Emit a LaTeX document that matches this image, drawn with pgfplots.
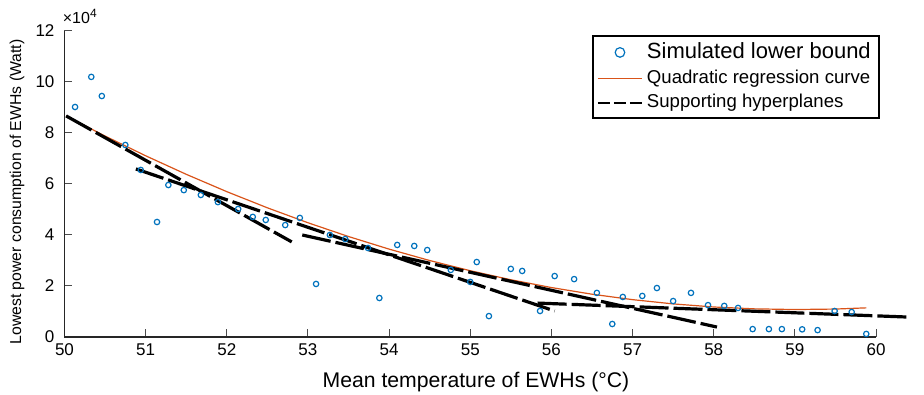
\documentclass[border=0pt]{standalone}
\usepackage{pgfplots}
\usepackage{pgfplotstable}
\pgfplotsset{compat=1.18}
\usepackage{fontspec}
\setmainfont{Liberation Sans}
\definecolor{mblue}{HTML}{0072BD}
\definecolor{morange}{HTML}{D95319}

\pgfplotsset{
  ptlegend/.style={legend image code/.code={\path[mblue, line width=1.1pt, mark size=2.4pt] plot[mark=o] coordinates {(11pt,0pt)};}},
  orlegend/.style={legend image code/.code={\draw[morange, line width=0.6pt] (0pt,0pt) -- (22pt,0pt);}},
  hplegend/.style={legend image code/.code={\draw[black, line width=1pt, dash pattern=on 6pt off 2pt] (0pt,0pt) -- (22pt,0pt);}},
  hyper/.style={black, line width=1.6pt, no marks, dash pattern=on 14.5pt off 2.5pt},
}

\pgfplotstableread{
x y
50.13 9.02
50.33 10.20
50.46 9.45
50.75 7.53
50.94 6.55
51.14 4.51
51.28 5.96
51.47 5.76
51.68 5.57
51.89 5.29
52.14 5.02
52.32 4.71
52.48 4.59
52.72 4.39
52.90 4.67
53.10 2.08
53.27 4.00
53.46 3.84
53.74 3.49
53.88 1.53
54.10 3.61
54.31 3.57
54.47 3.41
54.76 2.63
55.00 2.16
55.08 2.94
55.23 0.82
55.50 2.67
55.64 2.59
55.86 1.02
56.04 2.39
56.28 2.27
56.56 1.73
56.75 0.51
56.88 1.57
57.12 1.61
57.30 1.92
57.50 1.41
57.72 1.73
57.93 1.25
58.13 1.22
58.30 1.14
58.48 0.31
58.68 0.31
58.84 0.31
59.09 0.30
59.28 0.27
59.49 1.02
59.70 0.98
59.88 0.12
}\pointsdata

\pgfplotstableread{
x y
50.02 8.670
50.5 7.880
51.0 7.107
51.5 6.380
52.0 5.700
52.5 5.066
53.0 4.480
53.5 3.940
54.0 3.446
54.5 2.999
55.0 2.599
55.5 2.245
56.0 1.939
56.5 1.678
57.0 1.465
57.5 1.298
58.0 1.177
58.5 1.104
59.0 1.077
59.5 1.096
59.88 1.143
}\curvedata

\begin{document}
\begin{tikzpicture}
\begin{axis}[
  name=ax,
  scale only axis, width=405.75pt, height=153pt,
  xmin=50, xmax=60, ymin=0, ymax=12,
  xtick={50,51,...,60}, ytick={0,2,...,12},
  axis x line*=bottom, axis y line*=left,
  axis line style={line width=0.8pt, color=black!85},
  tick align=inside, major tick length=4pt,
  tick style={line width=0.5pt, color=black!70},
  clip=false,
  ticklabel style={font=\fontsize{8.5}{10}\selectfont},
  /pgf/number format/assume math mode=true,
  yticklabel style={xshift=-1.5pt},
  xlabel={Mean temperature of EWHs (°C)},
  ylabel={Lowest power consumption of EWHs (Watt)},
  xlabel style={font=\fontsize{10.6}{12}\selectfont, at={(axis description cs:0.507,0)}, anchor=center, yshift=-22.5pt},
  ylabel style={font=\fontsize{7.9}{9}\selectfont, at={(axis description cs:-0.0585,0.474)}, anchor=center},
  legend cell align=left,
  legend style={at={(axis description cs:0.650,0.987)}, anchor=north west,
    draw=black, line width=1pt, inner xsep=2pt, inner ysep=1.5pt},
]
\addplot[only marks, mark=o, mark size=1.35pt, mblue, mark options={line width=0.6pt}, ptlegend]
  table[x=x,y=y] {\pointsdata};
\addlegendentry{\fontsize{11}{13}\selectfont Simulated lower bound}

\addplot[morange, line width=0.6pt, no marks, orlegend]
  table[x=x,y=y] {\curvedata};
\addlegendentry{\fontsize{9.3}{11}\selectfont Quadratic regression curve\hspace{7.5pt}}

\addplot[hyper, hplegend] coordinates {(50.02,8.67) (52.80,3.73)};
\addlegendentry{\fontsize{9.3}{11}\selectfont Supporting hyperplanes\rule[-3pt]{0pt}{5pt}}
\addplot[hyper, forget plot] coordinates {(50.88,6.59) (56.04,1.02)};
\addplot[hyper, forget plot] coordinates {(52.93,4.00) (58.04,0.39)};
\addplot[hyper, forget plot] coordinates {(55.83,1.33) (60.41,0.78)};

\node[anchor=south west, inner sep=0pt, font=\fontsize{8}{9}\selectfont] at (rel axis cs:0,1) [xshift=-1pt, yshift=3.5pt] {×10\textsuperscript{4}};
\end{axis}
\pgfresetboundingbox
\path (ax.south west) ++(-32.25pt,-29pt) rectangle ++(462pt,197.5pt);
\end{tikzpicture}
\end{document}
